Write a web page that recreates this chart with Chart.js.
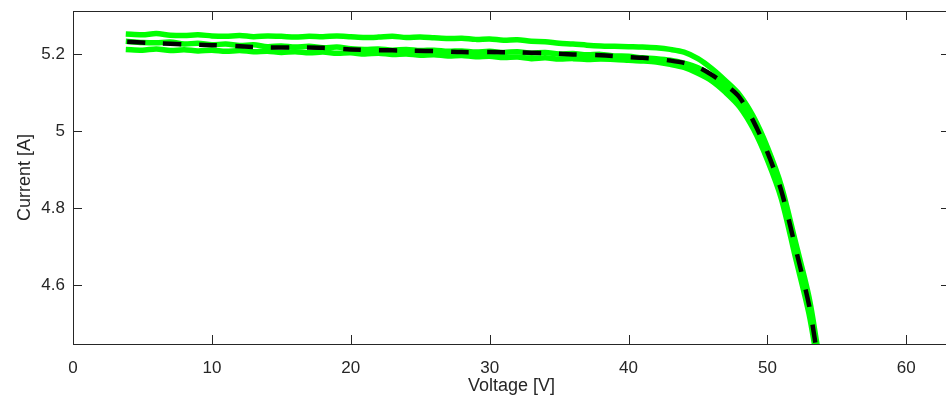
<!DOCTYPE html>
<html>
<head>
<meta charset="utf-8">
<script src="https://cdn.jsdelivr.net/npm/chart.js@4/dist/chart.umd.min.js"></script>
<style>
  html, body { margin: 0; padding: 0; background: #fff; overflow: hidden; }
  #wrap { width: 960px; height: 402px; }
</style>
</head>
<body>
<div id="wrap"><canvas id="ivChart" width="960" height="402"></canvas></div>
<script>
// measured sweeps (three passes)
const sweepV = [3.8, 5, 6, 7, 8, 9, 10, 11, 12, 13, 14, 15, 16, 17, 18, 19, 20, 21, 22, 23, 24, 25, 26, 27, 28, 29, 30,
  31, 32, 33, 34, 35, 36, 37, 38, 39, 40, 41, 42, 43, 44, 45, 46, 47, 48, 49, 50, 51, 52, 53, 53.6];
const sweepA = [5.252, 5.250, 5.253, 5.249, 5.248, 5.250, 5.247, 5.246, 5.248, 5.245, 5.247, 5.246, 5.244, 5.246, 5.245,
  5.247, 5.245, 5.243, 5.244, 5.246, 5.243, 5.244, 5.242, 5.240, 5.241, 5.238, 5.239, 5.236, 5.237, 5.233, 5.232,
  5.228, 5.226, 5.223, 5.221, 5.220, 5.219, 5.218, 5.216, 5.212, 5.205, 5.188, 5.162, 5.130, 5.094, 5.037, 4.958,
  4.858, 4.715, 4.568, 4.440];
const sweepB = [5.233, 5.230, 5.229, 5.231, 5.226, 5.228, 5.224, 5.226, 5.222, 5.224, 5.219, 5.221, 5.218, 5.220, 5.216,
  5.218, 5.214, 5.212, 5.213, 5.210, 5.212, 5.209, 5.210, 5.207, 5.208, 5.205, 5.207, 5.204, 5.206, 5.202, 5.204,
  5.200, 5.201, 5.198, 5.199, 5.195, 5.194, 5.190, 5.188, 5.184, 5.176, 5.164, 5.143, 5.115, 5.080, 5.020, 4.940,
  4.838, 4.690, 4.542, 4.420];
const sweepC = [5.212, 5.210, 5.213, 5.209, 5.211, 5.208, 5.210, 5.207, 5.209, 5.206, 5.207, 5.204, 5.206, 5.203, 5.205,
  5.202, 5.203, 5.200, 5.202, 5.199, 5.200, 5.197, 5.198, 5.195, 5.196, 5.193, 5.194, 5.191, 5.192, 5.188, 5.190,
  5.187, 5.188, 5.186, 5.187, 5.186, 5.184, 5.182, 5.179, 5.173, 5.165, 5.150, 5.130, 5.100, 5.063, 5.005, 4.925,
  4.825, 4.675, 4.525, 4.400];

// fitted model
const fitV = [3.9, 6, 8, 10, 12, 14, 16, 18, 20, 22, 24, 26, 28, 30, 32, 34, 36, 38, 40, 41, 42, 43, 44, 45, 46, 47,
  48, 49, 50, 51, 52, 53, 53.5];
const fitI = [5.232, 5.228, 5.225, 5.223, 5.220, 5.217, 5.217, 5.216, 5.212, 5.210, 5.209, 5.208, 5.205, 5.205, 5.204,
  5.202, 5.199, 5.197, 5.192, 5.190, 5.187, 5.183, 5.177, 5.166, 5.146, 5.120, 5.087, 5.025, 4.945, 4.845, 4.700,
  4.548, 4.440];

const xTicks = [0, 10, 20, 30, 40, 50, 60];
const yTicks = [4.6, 4.8, 5, 5.2];

const axisColor = "#262626";
const fontFam = "'Liberation Sans', Arial, Helvetica, sans-serif";

function pts(xs, ys) {
    return xs.map((x, i) => ({ x: x, y: ys[i] }));
}

function sweep(ys) {
    return {
        data: pts(sweepV, ys),
        borderColor: "#00ff00",
        borderWidth: 5.5,
        pointRadius: 0,
        tension: 0.3,
        fill: false,
        order: 2
    };
}

// MATLAB style box with inward ticks
const boxPlugin = {
    id: "box",
    afterDraw(chart) {
        const { ctx, chartArea: a, scales } = chart;
        const len = 9;
        ctx.save();
        ctx.strokeStyle = axisColor;
        ctx.lineWidth = 1;
        ctx.strokeRect(a.left + 0.5, a.top + 0.5, a.right - a.left, a.bottom - a.top);
        ctx.beginPath();
        xTicks.forEach(v => {
            const px = Math.round(scales.x.getPixelForValue(v)) + 0.5;
            ctx.moveTo(px, a.bottom); ctx.lineTo(px, a.bottom - len);
            ctx.moveTo(px, a.top); ctx.lineTo(px, a.top + len);
        });
        yTicks.forEach(v => {
            const py = Math.round(scales.y.getPixelForValue(v)) + 0.5;
            ctx.moveTo(a.left, py); ctx.lineTo(a.left + len, py);
            ctx.moveTo(a.right, py); ctx.lineTo(a.right - len, py);
        });
        ctx.stroke();
        ctx.restore();
    }
};

new Chart(document.getElementById("ivChart"), {
    type: "scatter",
    data: {
        datasets: [
            {
                data: pts(fitV, fitI),
                borderColor: "#000000",
                borderWidth: 4.5,
                borderDash: [18, 18],
                pointRadius: 0,
                tension: 0.3,
                fill: false,
                order: 1
            },
            sweep(sweepA),
            sweep(sweepB),
            sweep(sweepC)
        ]
    },
    options: {
        responsive: false,
        animation: false,
        showLine: true,
        layout: { padding: { top: 11, right: 10, bottom: 0, left: 0 } },
        plugins: { legend: { display: false }, tooltip: { enabled: false } },
        scales: {
            x: {
                type: "linear",
                min: 0,
                max: 63.15,
                grid: { display: false, drawTicks: false },
                border: { display: false },
                afterBuildTicks: s => { s.ticks = xTicks.map(v => ({ value: v })); },
                afterFit: s => { s.height = 58; s.paddingLeft = 0; s.paddingRight = 0; },
                ticks: { color: axisColor, font: { family: fontFam, size: 17 }, padding: 14, maxRotation: 0 },
                title: { display: true, text: "Voltage [V]", color: axisColor,
                    font: { family: fontFam, size: 18 }, padding: { top: 0, bottom: 5 } }
            },
            y: {
                type: "linear",
                min: 4.4468,
                max: 5.3117,
                grid: { display: false, drawTicks: false },
                border: { display: false },
                afterBuildTicks: s => { s.ticks = yTicks.map(v => ({ value: v })); },
                afterFit: s => { s.width = 73; s.paddingTop = 0; s.paddingBottom = 0; },
                ticks: { color: axisColor, font: { family: fontFam, size: 17 }, padding: 8,
                    callback: v => String(Number(v.toFixed(1))) },
                title: { display: true, text: "Current [A]", color: axisColor,
                    font: { family: fontFam, size: 18 }, padding: { top: 14, bottom: 0 } }
            }
        }
    },
    plugins: [boxPlugin]
});
</script>
</body>
</html>
